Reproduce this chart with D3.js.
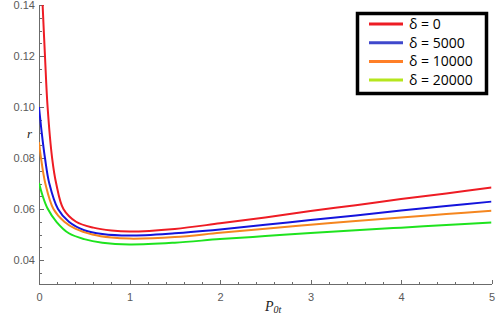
<!DOCTYPE html>
<html>
<head>
<meta charset="UTF-8">
<script src="https://d3js.org/d3.v7.min.js"></script>
<style>
  body { margin: 0; background: #fff; }
  .axis path, .axis line { stroke: #6b6b6b; shape-rendering: crispEdges; }
  .axis text { fill: #5a5a5a; font-family: "Liberation Sans", Arial, sans-serif; font-size: 11px; }
  .legend text { font-family: "Open Sans", "Liberation Sans", sans-serif; font-size: 14px; fill: #000; }
</style>
</head>
<body>
<div id="chart"></div>
<script>
// values: P0t on x, r on y
var pRed    = [0.03, 0.04, 0.066, 0.095, 0.145, 0.19, 0.27, 0.41, 0.6, 0.8, 1.0, 1.5, 2, 2.5, 3, 3.5, 4, 4.5, 5];
var rRed    = [0.148, 0.14, 0.12, 0.10, 0.08, 0.07, 0.06, 0.055, 0.0527, 0.0516, 0.0512, 0.0522, 0.0544, 0.0567, 0.0592, 0.0615, 0.0639, 0.0661, 0.0684];
var pBlue   = [0, 0.03, 0.066, 0.114, 0.21, 0.33, 0.5, 0.7, 1.0, 1.5, 2, 2.5, 3, 3.5, 4, 4.5, 5];
var rBlue   = [0.100, 0.090, 0.080, 0.070, 0.060, 0.055, 0.0517, 0.0502, 0.0496, 0.0505, 0.052, 0.0538, 0.0557, 0.0575, 0.0594, 0.0612, 0.0629];
var pOrange = [0, 0.02, 0.07, 0.16, 0.28, 0.4, 0.59, 0.8, 1.0, 1.5, 2, 2.5, 3, 3.5, 4, 4.5, 5];
var rOrange = [0.0862, 0.0805, 0.070, 0.060, 0.055, 0.0523, 0.050, 0.0488, 0.0484, 0.049, 0.0507, 0.0523, 0.0538, 0.0553, 0.0567, 0.058, 0.0593];
var pGreen  = [0, 0.04, 0.095, 0.195, 0.33, 0.5, 0.7, 1.0, 1.5, 2, 2.5, 3, 3.5, 4, 4.5, 5];
var rGreen  = [0.0702, 0.0652, 0.0602, 0.0549, 0.0505, 0.0482, 0.0468, 0.0461, 0.0468, 0.0482, 0.0494, 0.0506, 0.0517, 0.0527, 0.0537, 0.0547];

var legendNames = ["δ = 0", "δ = 5000", "δ = 10000", "δ = 20000"];
var lineColors = ["#ee1c24", "#1414dc", "#f5861f", "#1ee31e"];
var legendColors = ["#ed1c24", "#3f48cc", "#ff7f27", "#b5e61d"];

var xTicks = [0, 1, 2, 3, 4, 5];
var yTicks = [0.04, 0.06, 0.08, 0.10, 0.12, 0.14];

var W = 498, H = 315;
var svg = d3.select("#chart").append("svg")
    .attr("width", W).attr("height", H);

svg.append("rect").attr("width", W).attr("height", H).attr("fill", "#fff");

var x = d3.scaleLinear().domain([0, 5]).range([39, 491.5]);
var y = d3.scaleLinear().domain([0.0306, 0.14]).range([284, 5]);

// clip for the curves
svg.append("clipPath").attr("id", "plotclip")
  .append("rect")
    .attr("x", x(0)).attr("y", y(0.14))
    .attr("width", x(5) - x(0)).attr("height", y(0.0306) - y(0.14));

// minor ticks
svg.append("g").attr("class", "axis")
    .attr("transform", "translate(0," + y(0.0306) + ")")
    .call(d3.axisBottom(x).tickValues(d3.range(0, 5.01, 0.2)).tickSize(-2.5).tickSizeOuter(0).tickFormat(""))
    .select(".domain").remove();
svg.append("g").attr("class", "axis")
    .attr("transform", "translate(" + x(0) + ",0)")
    .call(d3.axisLeft(y).tickValues(d3.range(0.035, 0.1401, 0.005)).tickSize(-3).tickSizeOuter(0).tickFormat(""))
    .select(".domain").remove();

// major axes
svg.append("g").attr("class", "axis")
    .attr("transform", "translate(0," + y(0.0306) + ")")
    .call(d3.axisBottom(x).tickValues(xTicks).tickSize(-4.5).tickSizeOuter(0).tickPadding(9).tickFormat(d3.format("d")));
svg.append("g").attr("class", "axis")
    .attr("transform", "translate(" + x(0) + ",0)")
    .call(d3.axisLeft(y).tickValues(yTicks).tickSize(-5).tickSizeOuter(0).tickPadding(4).tickFormat(d3.format(".2f")));

// curves
var series = [[pRed, rRed], [pBlue, rBlue], [pOrange, rOrange], [pGreen, rGreen]];
var line = d3.line()
    .x(function(d) { return x(d[0]); })
    .y(function(d) { return y(d[1]); })
    .curve(d3.curveCatmullRom.alpha(0.5));

svg.append("g").attr("clip-path", "url(#plotclip)")
  .selectAll("path")
  .data(series)
  .enter().append("path")
    .attr("d", function(s) { return line(d3.zip(s[0], s[1])); })
    .attr("fill", "none")
    .attr("stroke", function(s, i) { return lineColors[i]; })
    .attr("stroke-width", 2);

// axis labels
svg.append("text")
    .attr("x", 27).attr("y", 138)
    .style("font-family", "'Liberation Serif', 'Times New Roman', serif")
    .style("font-style", "italic")
    .style("font-size", "13px")
    .attr("fill", "#222")
    .text("r");

var xl = svg.append("text")
    .attr("x", 265).attr("y", 311)
    .style("font-family", "'Liberation Serif', 'Times New Roman', serif")
    .style("font-style", "italic")
    .attr("fill", "#222");
xl.append("tspan").style("font-size", "14px").text("P");
xl.append("tspan").style("font-size", "10px").attr("dy", 2).text("0t");

// legend
var legend = svg.append("g").attr("class", "legend");
legend.append("rect")
    .attr("x", 357.5).attr("y", 13.5)
    .attr("width", 129).attr("height", 80)
    .attr("fill", "#fff").attr("stroke", "#000").attr("stroke-width", 3.5);

var items = legend.selectAll(".item")
    .data(legendNames)
    .enter().append("g")
    .attr("class", "item")
    .attr("transform", function(d, i) { return "translate(0," + (24 + i * 18.7) + ")"; });

items.append("line")
    .attr("x1", 369).attr("x2", 403)
    .attr("stroke", function(d, i) { return legendColors[i]; })
    .attr("stroke-width", 3);

items.append("text")
    .attr("x", 409).attr("y", 5)
    .text(function(d) { return d; });
</script>
</body>
</html>
